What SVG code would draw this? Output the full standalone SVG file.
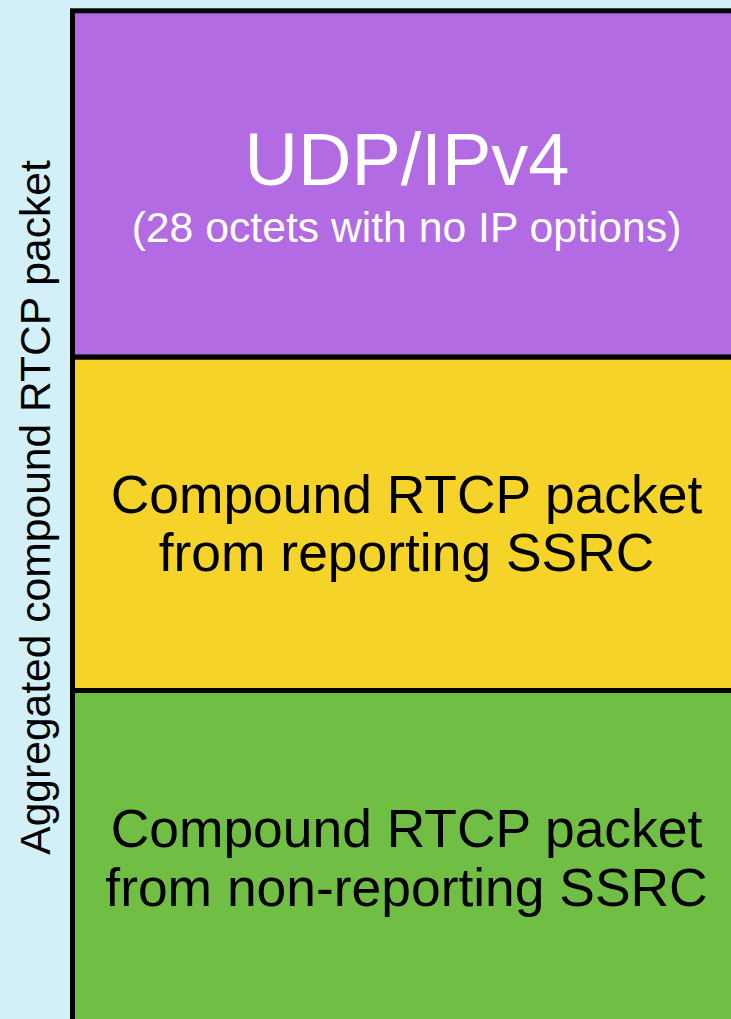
<svg xmlns="http://www.w3.org/2000/svg" width="731" height="1019" viewBox="0 0 731 1019">
<style>
  text { font-family: "Liberation Sans", Arial, sans-serif; text-anchor: middle; }
  .blk { stroke: #000; stroke-width: 5; }
  .big { font-size: 74px; fill: #fff; }
  .sub { font-size: 42.7px; fill: #fff; }
  .mid { font-size: 53.4px; fill: #000; }
  .side { font-size: 42.6px; fill: #000; }
</style>
<rect x="0" y="0" width="731" height="1019" fill="#d3f0f9"/>
<g id="side-label">
  <text class="side" transform="translate(50,507.5) rotate(-90)">Aggregated compound RTCP packet</text>
</g>
<g id="udp">
  <rect class="blk" x="72.5" y="10.8" width="680" height="346.4" fill="#b36be3"/>
  <text class="big" x="407" y="185">UDP/IPv4</text>
  <text class="sub" x="406.5" y="241.5">(28 octets with no IP options)</text>
</g>
<g id="reporting">
  <rect class="blk" x="72.5" y="357.2" width="680" height="333.3" fill="#f6d329"/>
  <text class="mid" x="406.5" y="513">Compound RTCP packet</text>
  <text class="mid" x="406.5" y="571">from reporting SSRC</text>
</g>
<g id="non-reporting">
  <rect class="blk" x="72.5" y="690.5" width="680" height="340" fill="#70bf44"/>
  <text class="mid" x="406.5" y="847">Compound RTCP packet</text>
  <text class="mid" x="406.5" y="906">from non-reporting SSRC</text>
</g>
<g id="connectors"></g>
</svg>
